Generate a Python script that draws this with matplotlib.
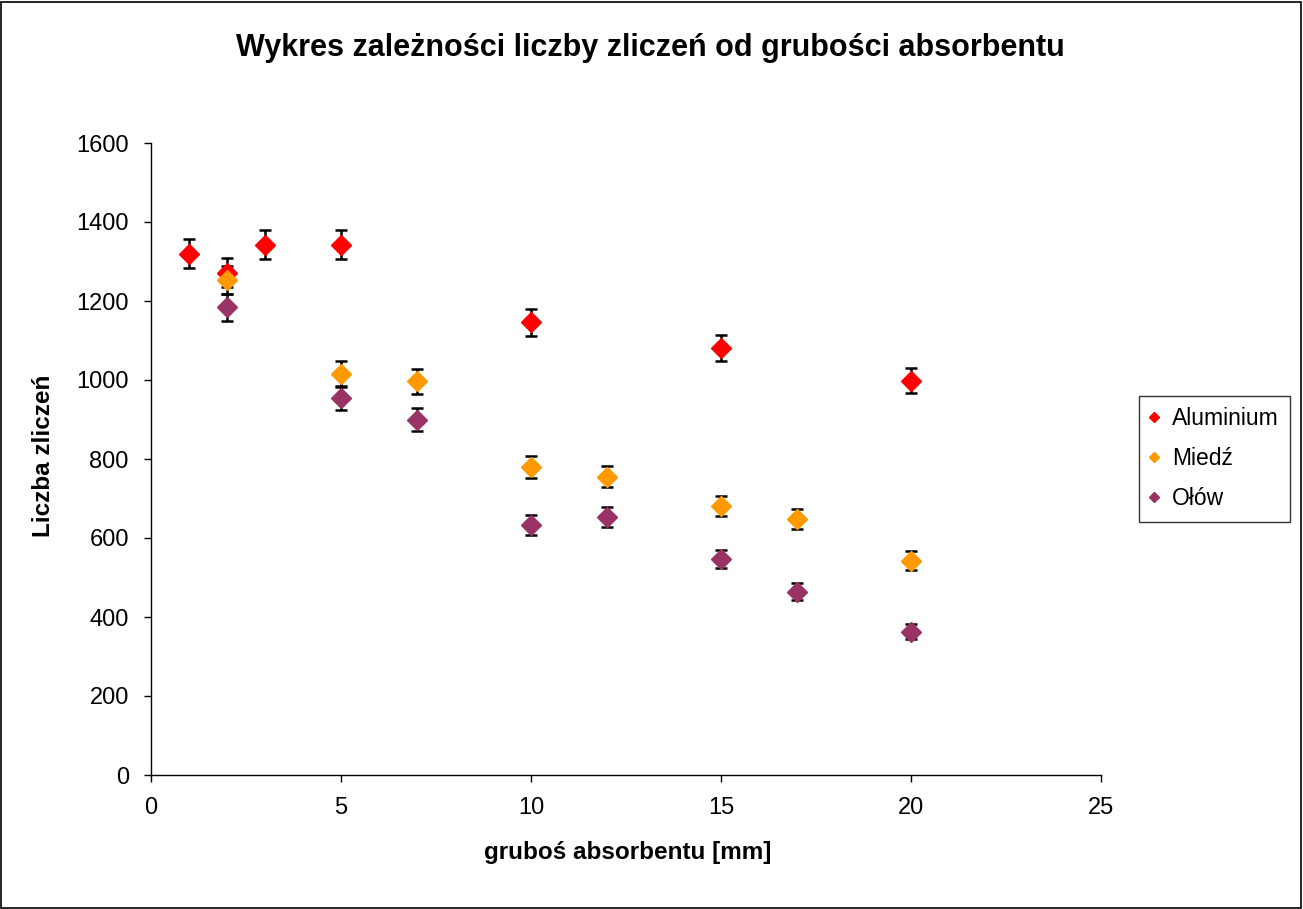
import matplotlib
matplotlib.use("Agg")
import matplotlib.pyplot as plt
from matplotlib.patches import Rectangle

plt.rcParams['font.family'] = ['Liberation Sans', 'DejaVu Sans']

title = "Wykres zależności liczby zliczeń od grubości absorbentu"
xlabel = "gruboś absorbentu [mm]"
ylabel = "Liczba zliczeń"

al_x = [1, 2, 3, 5, 10, 15, 20]
al_y = [1320, 1272, 1343, 1343, 1146, 1081, 998]
al_err = [36, 36, 37, 37, 34, 33, 32]

cu_x = [2, 5, 7, 10, 12, 15, 17, 20]
cu_y = [1253, 1015, 997, 780, 755, 681, 648, 543]
cu_err = [35, 32, 32, 28, 27, 26, 25, 23]

pb_x = [2, 5, 7, 10, 12, 15, 17, 20]
pb_y = [1184, 954, 900, 633, 653, 547, 464, 363]
pb_err = [34, 31, 30, 25, 26, 23, 22, 19]

series = [
    ("Aluminium", al_x, al_y, al_err, "#FF0000"),
    ("Miedź", cu_x, cu_y, cu_err, "#FF9900"),
    ("Ołów", pb_x, pb_y, pb_err, "#993366"),
]

W, H = 1303, 909
fig = plt.figure(figsize=(W / 100, H / 100), dpi=100)
ax = fig.add_axes([151 / W, 1 - 775 / H, (1101 - 151) / W, (775 - 143) / H])

handles = []
for name, xs, ys, es, col in series:
    ax.errorbar(xs, ys, yerr=es, fmt='none', ecolor='black', elinewidth=1.8,
                capsize=4.5, capthick=1.8, zorder=2)
    h, = ax.plot(xs, ys, linestyle='none', marker='D', markersize=10,
                 color=col, markeredgecolor=col, zorder=3, label=name)
    handles.append(h)

ax.set_xlim(0, 25)
ax.set_ylim(0, 1600)
ax.set_xticks([0, 5, 10, 15, 20, 25])
ax.set_yticks(range(0, 1601, 200))
for s in ['top', 'right']:
    ax.spines[s].set_visible(False)
for s in ['left', 'bottom']:
    ax.spines[s].set_linewidth(1.0)
ax.tick_params(axis='both', direction='out', length=5, width=1.0, labelsize=17)
ax.tick_params(axis='x', pad=11)
ax.tick_params(axis='y', pad=11)

fig.text(628 / W, 1 - 853 / H, xlabel, ha='center', va='center',
         fontsize=17.5, fontweight='bold')
fig.text(44 / W, 1 - 456 / H, ylabel, ha='center', va='center',
         rotation=90, fontsize=17.5, fontweight='bold')
fig.text(650 / W, 1 - 48 / H, title, ha='center', va='center',
         fontsize=22, fontweight='bold')

leg = fig.legend(handles=handles, loc='upper left',
                 bbox_to_anchor=(1139 / W, 1 - 396 / H),
                 frameon=True, fancybox=False, edgecolor='black',
                 fontsize=16.5, handlelength=0.35, handletextpad=0.6,
                 borderpad=0.5, labelspacing=0.74, markerscale=0.55,
                 borderaxespad=0)
leg.get_frame().set_linewidth(1.0)

fig.patches.append(Rectangle((1 / W, 1 / H), 1 - 3 / W, 1 - 3 / H,
                             transform=fig.transFigure, fill=False,
                             edgecolor='black', linewidth=1.2))

fig.savefig("out.png", dpi=100)
